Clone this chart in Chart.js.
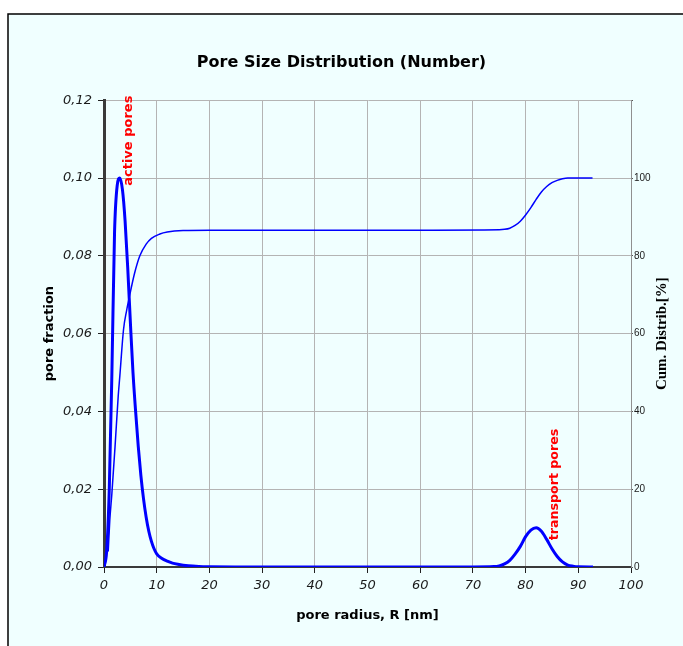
<!DOCTYPE html>
<html>
<head>
<meta charset="utf-8">
<script src="https://cdn.jsdelivr.net/npm/chart.js@4"></script>
<style>
  body { margin: 0; background: #fff; }
  canvas { display: block; }
</style>
</head>
<body>
<canvas id="psdChart" width="683" height="646"></canvas>
<script>
// pore fraction (left axis)
const psdRadius = [0, 0.5, 1, 1.5, 2, 2.5, 3, 3.5, 4, 4.5, 5, 5.5, 6, 6.5, 7, 7.5, 8, 8.5, 9, 9.5, 10, 11, 12, 13, 14, 16, 18, 20, 25, 30, 40, 50, 60, 70,
    74, 75, 76, 77, 78, 79, 80, 81, 82, 83, 84, 85, 86, 87, 88, 89, 90, 92.8];
const psdFraction = [0, 0.004, 0.02, 0.05, 0.086, 0.098, 0.1, 0.097, 0.089, 0.077, 0.063, 0.05, 0.04, 0.031, 0.0235, 0.0175, 0.0128, 0.0092, 0.0066, 0.0047, 0.0034, 0.0022, 0.0015, 0.001, 0.0007, 0.0003, 0.00012, 0.00005, 0, 0, 0, 0, 0, 0,
    0.0001, 0.0003, 0.0008, 0.0017, 0.0033, 0.0053, 0.0078, 0.0095, 0.0101, 0.0092, 0.0071, 0.0047, 0.0027, 0.0013, 0.0005, 0.0002, 0.00005, 0];

// cumulative distribution in % (right axis)
const cumRadius = [0.8, 1.1, 1.5, 2.1, 2.7, 3, 3.7, 4.3, 4.9, 5.8, 6.8, 8, 9, 10.6, 12, 15, 20, 40, 60, 75,
    76, 77, 78, 79, 80, 81, 82, 83, 84, 85, 86, 87, 88, 90, 92.7];
const cumPercent = [4, 12, 19, 31, 44, 49, 61, 66, 70, 75.5, 80, 83, 84.5, 85.6, 86.1, 86.5, 86.6, 86.6, 86.6, 86.7,
    86.8, 87.1, 87.8, 88.9, 90.5, 92.4, 94.5, 96.4, 97.8, 98.8, 99.4, 99.8, 100, 100, 100];

// labels placed on the plot (x, y in data units)
const labelActive = { text: "active pores", x: 4.6, y: 0.098 };
const labelTransport = { text: "transport pores", x: 85.5, y: 0.0069 };

const toPoints = (xs, ys) => xs.map((x, i) => ({ x: x, y: ys[i] }));

const frame = {
    id: "frame",
    beforeDraw(chart) {
        const c = chart.ctx;
        c.save();
        c.fillStyle = "#ffffff";
        c.fillRect(0, 0, chart.width, chart.height);
        c.fillStyle = "#f0ffff";
        c.fillRect(8, 14, chart.width - 8, chart.height - 14);
        c.strokeStyle = "#000";
        c.lineWidth = 1.5;
        c.beginPath();
        c.moveTo(8, chart.height);
        c.lineTo(8, 14);
        c.lineTo(chart.width, 14);
        c.stroke();
        c.restore();
    },
    afterDraw(chart) {
        const c = chart.ctx;
        const xs = chart.scales.x, ys = chart.scales.y;
        c.save();
        // vertical labels, reading bottom to top
        c.fillStyle = "#ff0000";
        c.textBaseline = "middle";
        c.textAlign = "left";
        [labelActive, labelTransport].forEach(l => {
            c.save();
            c.font = l === labelActive ? "bold 13px 'DejaVu Sans'" : "bold 12.6px 'DejaVu Sans'";
            c.translate(xs.getPixelForValue(l.x), ys.getPixelForValue(l.y));
            c.rotate(-Math.PI / 2);
            c.fillText(l.text, 0, 0);
            c.restore();
        });
        // right axis title
        c.fillStyle = "#000";
        c.font = "bold 15px 'Liberation Serif'";
        c.textAlign = "center";
        c.translate(662, (chart.chartArea.top + chart.chartArea.bottom) / 2);
        c.rotate(-Math.PI / 2);
        c.fillText("Cum. Distrib.[%]", 0, 0);
        c.restore();
    }
};

const ctx = document.getElementById("psdChart").getContext("2d");
const chart = new Chart(ctx, {
    type: "line",
    data: {
        datasets: [
            {
                label: "pore fraction",
                data: toPoints(psdRadius, psdFraction),
                yAxisID: "y",
                borderColor: "#0000ff",
                borderWidth: 3,
                pointRadius: 0,
                cubicInterpolationMode: "monotone"
            },
            {
                label: "Cum. Distrib.",
                data: toPoints(cumRadius, cumPercent),
                yAxisID: "y2",
                borderColor: "#0000ff",
                borderWidth: 1.5,
                pointRadius: 0,
                cubicInterpolationMode: "monotone"
            }
        ]
    },
    options: {
        responsive: false,
        animation: false,
        layout: { padding: 0 },
        plugins: {
            legend: { display: false },
            tooltip: { enabled: false },
            title: {
                display: true,
                text: "Pore Size Distribution (Number)",
                color: "#000",
                font: { family: "DejaVu Sans", size: 16, weight: "bold" },
                padding: { top: 53, bottom: 28 }
            }
        },
        scales: {
            x: {
                type: "linear",
                min: 0,
                max: 100,
                ticks: {
                    stepSize: 10,
                    color: "#1a1a1a",
                    padding: 5,
                    font: { family: "DejaVu Sans", size: 13, style: "italic" }
                },
                grid: { color: "#b4b4b4", tickColor: "#222", tickLength: 6 },
                border: { color: "#3a3a3a", width: 2 },
                title: {
                    display: true,
                    text: "pore radius, R [nm]",
                    color: "#000",
                    font: { family: "DejaVu Sans", size: 13, weight: "bold" },
                    padding: { top: 0, bottom: 23 }
                },
                afterFit: s => { s.height = 79; }
            },
            y: {
                position: "left",
                min: 0,
                max: 0.12,
                ticks: {
                    stepSize: 0.02,
                    color: "#1a1a1a",
                    padding: 6,
                    font: { family: "DejaVu Sans", size: 13, style: "italic" },
                    callback: v => v.toFixed(2).replace(".", ",")
                },
                grid: { color: "#b4b4b4", tickColor: "#222", tickLength: 6 },
                border: { color: "#3a3a3a", width: 3 },
                title: {
                    display: true,
                    text: "pore fraction",
                    color: "#000",
                    font: { family: "DejaVu Sans", size: 13, weight: "bold" },
                    padding: { top: 42, bottom: 0 }
                },
                afterFit: s => { s.width = 104; }
            },
            y2: {
                position: "right",
                min: 0,
                max: 120,
                ticks: {
                    stepSize: 20,
                    color: "#1a1a1a",
                    padding: 1,
                    font: { family: "Liberation Sans", size: 10 },
                    callback: v => (v > 100 ? "" : v)
                },
                grid: { drawOnChartArea: false, tickColor: "#555", tickLength: 2 },
                border: { color: "#909090", width: 1 },
                afterFit: s => { s.width = 52; }
            }
        }
    },
    plugins: [frame]
});
</script>
</body>
</html>
